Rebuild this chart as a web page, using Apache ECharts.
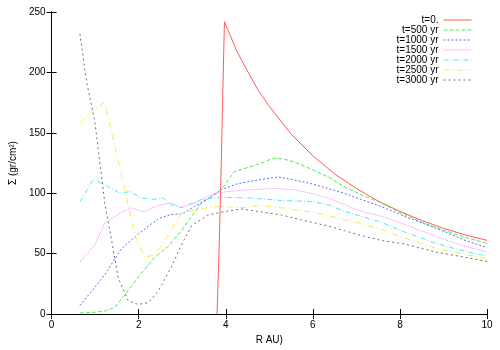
<!DOCTYPE html>
<html>
<head>
<meta charset="utf-8">
<script src="https://cdn.jsdelivr.net/npm/echarts@6/dist/echarts.min.js"></script>
<style>
  html, body { margin: 0; padding: 0; background: #fff; }
  #chart { width: 500px; height: 350px; }
</style>
</head>
<body>
<div id="chart"></div>
<script>
// surface density profiles, R in AU, sigma in gr/cm^2
const names = ['t=0.', 't=500 yr', 't=1000 yr', 't=1500 yr', 't=2000 yr', 't=2500 yr', 't=3000 yr']
const colors = ['#ff5a5a', '#55ea55', '#6666ff', '#ff80ff', '#55e8e8', '#eeee55', '#707070']
const dashes = ['solid', [4, 2], [2, 2], [1, 1], [5, 2, 1, 2], [6, 3, 1, 3], [2, 3]]

const r0 = [3.8, 3.85, 3.9, 3.93, 3.97, 4.25, 4.5, 4.75, 5, 5.5, 6, 6.5, 7, 7.5, 8, 8.5, 9, 9.5, 10]
const s0 = [0, 57, 130, 180, 242, 218, 201, 185, 172, 149, 131, 116, 104, 93.5, 85, 77.5, 71, 65.5, 61]

const r500 = [0.65, 1.0, 1.22, 1.45, 1.68, 2.0, 2.37, 2.68, 2.98, 3.44, 3.9, 4.2, 4.66, 5.1, 5.3, 5.57, 5.96, 6.35, 6.72, 7.1, 7.57, 8, 8.5, 9, 9.5, 10]
const s500 = [1, 1.5, 2.5, 5.5, 16, 31, 47, 56, 69, 92, 103, 118, 123, 129, 128.5, 126, 120, 113.5, 105.5, 99, 92, 84, 76, 69.5, 63.5, 58.5]

const r1000 = [0.65, 0.92, 1.22, 1.6, 2.0, 2.45, 2.75, 3.0, 3.28, 3.67, 3.9, 4.28, 4.74, 5.2, 5.57, 5.96, 6.35, 6.72, 7.1, 7.57, 8.1, 8.87, 9.5, 10]
const s1000 = [7, 19, 32.5, 54, 66.5, 79, 82.5, 83, 89, 97, 103, 108, 111, 113.5, 111, 108, 104, 100, 95, 89, 81, 70.5, 61, 55]

const r1500 = [0.65, 0.99, 1.22, 1.6, 1.83, 2.1, 2.45, 2.75, 2.98, 3.29, 3.67, 4.05, 4.51, 5.1, 5.58, 5.96, 6.35, 6.73, 7.11, 7.57, 8.1, 8.87, 9.5, 10]
const s1500 = [43, 57, 75.5, 84, 88, 84.5, 90, 92, 88.5, 92, 99, 101.5, 102.8, 104, 102.8, 100, 96, 90.6, 85, 81, 74.4, 63.6, 56, 51.5]

const r2000 = [0.65, 0.96, 1.22, 1.57, 1.8, 2.06, 2.37, 2.56, 2.75, 2.98, 3.44, 3.9, 4.59, 5.28, 5.96, 6.35, 6.73, 7.11, 7.57, 8.1, 8.87, 9.5, 10]
const s2000 = [93, 111.5, 107, 100, 101.5, 96, 95, 96, 90.5, 88, 94.7, 96.8, 96, 94, 93.3, 90.6, 85, 81, 76, 68, 58, 52, 48]

const r2500 = [0.65, 0.92, 1.22, 1.53, 1.72, 1.91, 2.14, 2.37, 2.68, 2.98, 3.13, 3.67, 3.9, 4.36, 4.82, 5.28, 5.96, 6.35, 6.73, 7.11, 7.57, 8.1, 8.87, 9.5, 10]
const s2500 = [158, 167.5, 175, 127, 97, 65, 47, 49, 65, 84, 85, 88.5, 89, 88, 90, 88, 84.4, 81.7, 78, 75, 70, 63, 54, 49.5, 45.5]

const r3000 = [0.65, 0.8, 0.99, 1.15, 1.22, 1.36, 1.53, 1.76, 1.99, 2.22, 2.45, 2.75, 2.98, 3.21, 3.59, 4.0, 4.36, 4.82, 5.28, 5.96, 6.35, 6.73, 7.11, 7.57, 8.1, 8.87, 9.5, 10]
const s3000 = [232, 193, 160, 113.6, 92, 65, 30, 11, 8, 9.5, 19, 39, 57, 73, 82, 85, 87, 84.5, 82, 76, 73, 69, 65, 61, 58, 51, 47, 43.5]

const radii = [r0, r500, r1000, r1500, r2000, r2500, r3000]
const sigmas = [s0, s500, s1000, s1500, s2000, s2500, s3000]

const font = 'Liberation Sans'
const frameLine = {show: true, lineStyle: {color: '#000', width: 1}}
const innerTick = {show: true, inside: true, length: 5, lineStyle: {color: '#000'}}

const chart = echarts.init(document.getElementById('chart'))

const option = {
  animation: false,
  textStyle: {fontFamily: font},
  grid: {left: 50, right: 13, top: 12, bottom: 30},
  legend: {
    orient: 'vertical',
    right: 28,
    top: 15,
    align: 'right',
    itemGap: 0,
    itemWidth: 28,
    itemHeight: 10,
    padding: 0,
    itemStyle: {opacity: 0},
    lineStyle: {width: 1, inactiveWidth: 1},
    textStyle: {fontSize: 10, lineHeight: 10, color: '#000', fontFamily: font},
    data: names
  },
  xAxis: [
    {
      type: 'value',
      min: 0,
      max: 10,
      interval: 2,
      name: 'R AU)',
      nameLocation: 'middle',
      nameGap: 20,
      nameTextStyle: {fontSize: 10, color: '#000'},
      axisLine: frameLine,
      axisTick: innerTick,
      axisLabel: {fontSize: 10, color: '#000', margin: 6},
      splitLine: {show: false}
    },
    {
      type: 'value',
      position: 'top',
      min: 0,
      max: 10,
      interval: 2,
      axisLine: frameLine,
      axisTick: innerTick,
      axisLabel: {show: false},
      splitLine: {show: false}
    }
  ],
  yAxis: [
    {
      type: 'value',
      min: 0,
      max: 250,
      interval: 50,
      name: 'Σ (gr/cm²)',
      nameLocation: 'middle',
      nameGap: 28,
      nameRotate: 90,
      nameTextStyle: {fontSize: 10, color: '#000'},
      axisLine: frameLine,
      axisTick: innerTick,
      axisLabel: {fontSize: 10, color: '#000', margin: 6},
      splitLine: {show: false}
    },
    {
      type: 'value',
      position: 'right',
      min: 0,
      max: 250,
      interval: 50,
      axisLine: frameLine,
      axisTick: innerTick,
      axisLabel: {show: false},
      splitLine: {show: false}
    }
  ],
  series: names.map((name, i) => ({
    name: name,
    type: 'line',
    showSymbol: false,
    symbol: 'none',
    color: colors[i],
    lineStyle: {color: colors[i], width: 1, type: dashes[i]},
    data: radii[i].map((r, j) => [r, sigmas[i][j]])
  }))
}

chart.setOption(option)
</script>
</body>
</html>
